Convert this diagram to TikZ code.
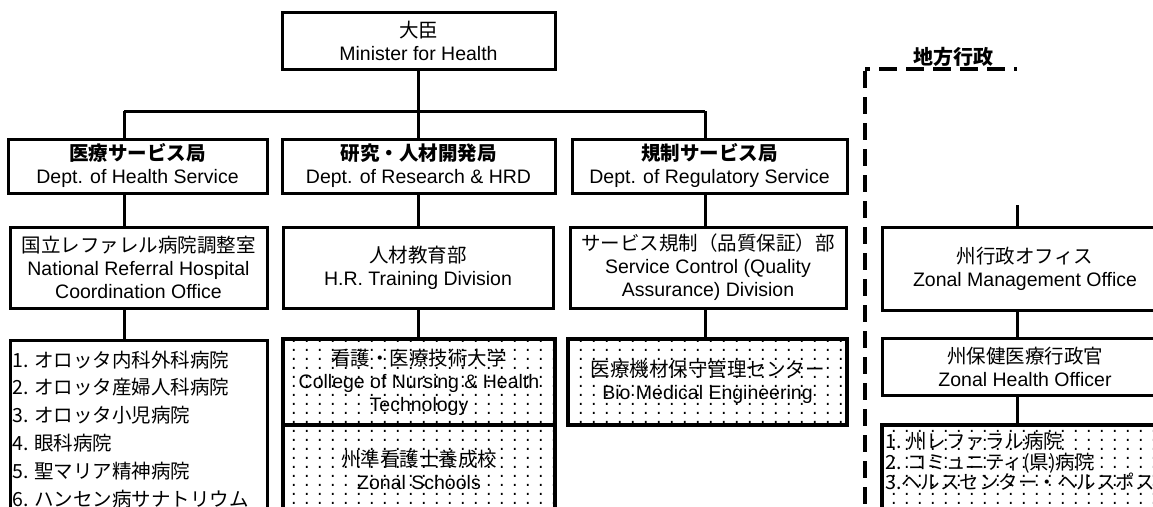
\documentclass[tikz,border=0pt]{standalone}
\usepackage{fontspec}
\setmainfont{Liberation Sans}
\newfontfamily\jp{Noto Sans CJK JP}
\usetikzlibrary{patterns.meta}
\pgfdeclarepattern{name=sparsedots, type=uncolored,
  bottom left={\pgfpoint{0pt}{0pt}}, top right={\pgfpoint{12.5pt}{9pt}},
  tile size={\pgfpoint{12.5pt}{9pt}},
  code={\pgfpathrectangle{\pgfpoint{5pt}{3.5pt}}{\pgfpoint{2pt}{2pt}}\pgfusepath{fill}}}
\begin{document}
\begin{tikzpicture}[x=1pt,y=-1pt,
  box/.style={draw, line width=3pt, inner sep=0pt, align=center,
    font=\fontsize{19.5}{23}\selectfont},
  dotbox/.style={box, line width=4.5pt, pattern=sparsedots},
  listtext/.style={inner sep=0pt, align=left, anchor=north west},
  conn/.style={line width=3pt},
  zonedash/.style={line width=4.5pt, dash pattern=on 18pt off 9pt}]
\useasboundingbox (0,0) rectangle (1153,506);
\clip (0,0) rectangle (1153,506);
\fill[white] (0,0) rectangle (1153,506);

% level 1
\node[box, minimum width=273pt, minimum height=57pt] (min) at (418.5,40.5)
  {{\jp 大臣}\\Minister for Health};

% level 2
\node[box, minimum width=259pt, minimum height=54pt] (hs) at (137.5,166)
  {{\jp\bfseries 医療サービス局}\\Dept. of Health Service};
\node[box, minimum width=273pt, minimum height=54pt] (rd) at (418.5,166)
  {{\jp\bfseries 研究・人材開発局}\\Dept. of Research \& HRD};
\node[box, minimum width=275pt, minimum height=54pt] (rs) at (709.5,166)
  {{\jp\bfseries 規制サービス局}\\Dept. of Regulatory Service};

% level 3
\node[box, minimum width=257pt, minimum height=81pt] (nr) at (138.5,267.5)
  {{\jp 国立レファレル病院調整室}\\National Referral Hospital\\Coordination Office};
\node[box, minimum width=270pt, minimum height=81pt] (hr) at (418,267.5)
  {{\jp 人材教育部}\\H.R. Training Division};
\node[box, minimum width=276pt, minimum height=81pt] (sc) at (708,267.5)
  {{\jp サービス規制（品質保証）部}\\Service Control (Quality\\Assurance) Division};
\node[box, minimum width=286pt, minimum height=83pt] (zm) at (1025,268.5)
  {{\jp 州行政オフィス}\\Zonal Management Office};

% level 4
\node[box, minimum width=257pt, minimum height=220pt] (hl) at (138.5,450) {};
\node[listtext, font=\jp\fontsize{19.5}{27.8}\selectfont] (hlt) at (12,350.5)
  {1. オロッタ内科外科病院\\2. オロッタ産婦人科病院\\3. オロッタ小児病院\\4. 眼科病院\\5. 聖マリア精神病院\\6. ハンセン病サナトリウム};

\node[dotbox, minimum width=272pt, minimum height=86pt] (nc) at (419,382)
  {{\jp 看護・医療技術大学}\\College of Nursing \& Health\\Technology};
\node[dotbox, minimum width=272pt, minimum height=90pt] (zs) at (419,470)
  {{\jp 州準看護士養成校}\\Zonal Schools};
\node[dotbox, minimum width=279pt, minimum height=86pt] (bm) at (707.5,382)
  {{\jp 医療機材保守管理センター}\\Bio Medical Engineering};

\node[box, minimum width=286pt, minimum height=57pt] (zh) at (1025,366.5)
  {{\jp 州保健医療行政官}\\Zonal Health Officer};
\node[dotbox, minimum width=286pt, minimum height=135pt] (zl) at (1025,492.5) {};
\node[listtext, font=\jp\fontsize{19.5}{20.5}\selectfont] (zlt) at (885,432)
  {1. 州レファラル病院\\2. コミュニティ(県)病院\\3.ヘルスセンター・ヘルスポスト};

% connectors
\coordinate (jl) at (124,111);
\coordinate (jr) at (705,111);
\coordinate (zt) at (1017,205);
\draw[conn] (min.south) -- (rd.north);
\draw[conn] (jl) -- (jr);
\draw[conn] (jl) -- (jl |- hs.north);
\draw[conn] (jr) -- (jr |- rs.north);
\draw[conn] (jl |- hs.south) -- (jl |- nr.north);
\draw[conn] (jl |- nr.south) -- (jl |- hl.north);
\draw[conn] (rd.south) -- (rd.south |- hr.north);
\draw[conn] (rd.south |- hr.south) -- (rd.south |- nc.north);
\draw[conn] (jr |- rs.south) -- (jr |- sc.north);
\draw[conn] (jr |- sc.south) -- (jr |- bm.north);
\draw[conn] (zt) -- (zt |- zm.north);
\draw[conn] (zt |- zm.south) -- (zt |- zh.north);
\draw[conn] (zt |- zh.south) -- (zt |- zl.north);

% regional administration boundary
\coordinate (dc) at (865,69);
\coordinate (de) at (1017,69);
\coordinate (db) at (865,520);
\draw[zonedash, dash phase=13pt] (dc) -- (de);
\draw[line width=4.5pt, dash pattern=on 17pt off 9pt] ([yshift=-2pt]dc) -- (db);
\node[inner sep=0pt, font=\jp\bfseries\fontsize{20}{22}\selectfont] (lg) at (953,57) {地方行政};
\end{tikzpicture}
\end{document}
